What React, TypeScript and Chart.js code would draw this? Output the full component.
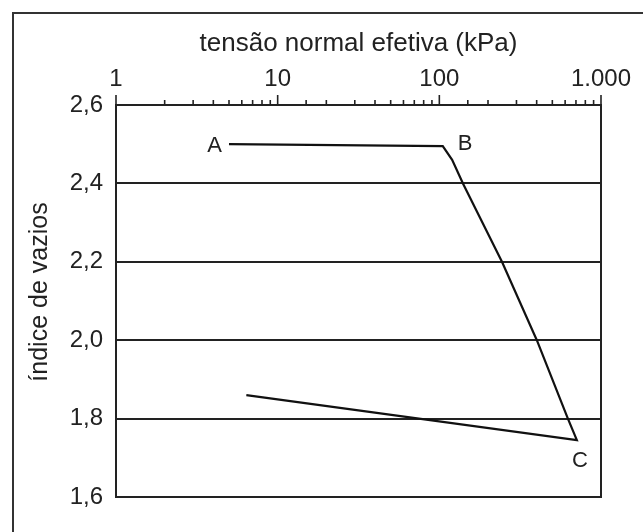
import React, { useEffect, useRef } from 'react';
import { Chart, registerables } from 'chart.js';

Chart.register(...registerables);

// ---- data ----
const stressKPa = [5.0, 105, 120, 140, 244, 401, 624, 709, 6.4];
const voidRatio = [2.5, 2.495, 2.46, 2.4, 2.2, 2.0, 1.8, 1.745, 1.86];
const pointNames = ['A', 'B', 'C'];
const pointNameIndex = [0, 1, 7];
const xTickValues = [1, 10, 100, 1000];
const xTickLabels = ['1', '10', '100', '1.000'];
const yTickValues = [1.6, 1.8, 2.0, 2.2, 2.4, 2.6];
const yTickLabels = ['1,6', '1,8', '2,0', '2,2', '2,4', '2,6'];
const xTitle = 'tensão normal efetiva (kPa)';
const yTitle = 'índice de vazios';

const FONT = "'Liberation Sans', Arial, Helvetica, sans-serif";
const INK = '#222';

const decor = {
  id: 'decor',
  beforeDraw(chart: any) {
    const ctx = chart.ctx;
    ctx.save();
    ctx.fillStyle = '#fff';
    ctx.fillRect(0, 0, chart.width, chart.height);
    ctx.strokeStyle = '#333';
    ctx.lineWidth = 2;
    ctx.beginPath();
    ctx.moveTo(13, chart.height);
    ctx.lineTo(13, 13);
    ctx.lineTo(chart.width, 13);
    ctx.stroke();
    ctx.restore();
  },
  afterDraw(chart: any) {
    const { ctx, chartArea: a } = chart;
    const x = chart.scales.x;
    ctx.save();
    ctx.strokeStyle = INK;
    ctx.lineWidth = 2;
    ctx.strokeRect(a.left, a.top, a.right - a.left, a.bottom - a.top);
    ctx.lineWidth = 1.6;
    x.ticks.forEach((t: any) => {
      const lg = Math.log10(t.value);
      const decade = Math.abs(lg - Math.round(lg)) < 1e-6;
      const len = decade ? 10 : 5;
      const px = x.getPixelForValue(t.value);
      ctx.beginPath();
      ctx.moveTo(px, a.top);
      ctx.lineTo(px, a.top - len);
      ctx.stroke();
    });
    // y axis title
    ctx.fillStyle = INK;
    ctx.save();
    ctx.translate(40, (a.top + a.bottom) / 2 - 9);
    ctx.rotate(-Math.PI / 2);
    ctx.font = `25px ${FONT}`;
    ctx.textAlign = 'center';
    ctx.textBaseline = 'middle';
    ctx.fillText(yTitle, 0, 0);
    ctx.restore();
    // point names
    const meta = chart.getDatasetMeta(0);
    ctx.font = `22px ${FONT}`;
    ctx.textBaseline = 'middle';
    pointNames.forEach((name, i) => {
      const el = meta.data[pointNameIndex[i]];
      if (!el) return;
      if (i === 0) {
        ctx.textAlign = 'right';
        ctx.fillText(name, el.x - 7, el.y + 2);
      } else if (i === 1) {
        ctx.textAlign = 'left';
        ctx.fillText(name, el.x + 15, el.y - 2);
      } else {
        ctx.textAlign = 'center';
        ctx.fillText(name, el.x + 3, el.y + 21);
      }
    });
    ctx.restore();
  },
};

function labelFor(values: number[], labels: string[], v: number) {
  for (let i = 0; i < values.length; i++) {
    if (Math.abs(values[i] - v) < 1e-6 * Math.max(1, values[i])) return labels[i];
  }
  return '';
}

export default function App() {
  const ref = useRef<HTMLCanvasElement | null>(null);
  useEffect(() => {
    if (!ref.current) return;
    const chart = new Chart(ref.current, {
      type: 'scatter',
      data: {
        datasets: [
          {
            data: stressKPa.map((s, i) => ({ x: s, y: voidRatio[i] })),
            showLine: true,
            borderColor: '#111',
            borderWidth: 2.2,
            pointRadius: 0,
            tension: 0,
            fill: false,
          },
        ],
      },
      options: {
        animation: false,
        responsive: true,
        maintainAspectRatio: false,
        layout: { padding: { top: 0, left: 0, right: 42, bottom: 35 } },
        plugins: { legend: { display: false }, tooltip: { enabled: false } },
        scales: {
          x: {
            type: 'logarithmic',
            position: 'top',
            min: 1,
            max: 1000,
            afterFit: (s: any) => {
              s.height = 105;
              s.paddingLeft = 0;
              s.paddingRight = 0;
            },
            grid: { display: true, drawOnChartArea: false, drawTicks: false },
            border: { display: true, color: INK, width: 2 },
            ticks: {
              autoSkip: false,
              maxRotation: 0,
              padding: 14,
              color: INK,
              font: { family: FONT, size: 24, lineHeight: 1 },
              callback: (v: any) => labelFor(xTickValues, xTickLabels, Number(v)),
            },
            title: {
              display: true,
              text: xTitle,
              color: INK,
              font: { family: FONT, size: 26, lineHeight: 1 },
              padding: { top: 31, bottom: 0 },
            },
          },
          y: {
            type: 'linear',
            min: 1.6,
            max: 2.6,
            afterFit: (s: any) => {
              s.width = 116;
              s.paddingTop = 0;
              s.paddingBottom = 0;
            },
            grid: { color: INK, lineWidth: 2, drawTicks: false },
            border: { display: true, color: INK, width: 2 },
            ticks: {
              stepSize: 0.2,
              padding: 13,
              color: INK,
              font: { family: FONT, size: 24, lineHeight: 1 },
              callback: (v: any) => labelFor(yTickValues, yTickLabels, Number(v)),
            },
            title: { display: false, text: yTitle },
          },
        },
      },
      plugins: [decor],
    } as any);
    return () => chart.destroy();
  }, []);
  return (
    <div style={{ position: 'fixed', left: 0, top: 0, width: 643, height: 532, background: '#fff' }}>
      <canvas ref={ref} />
    </div>
  );
}
